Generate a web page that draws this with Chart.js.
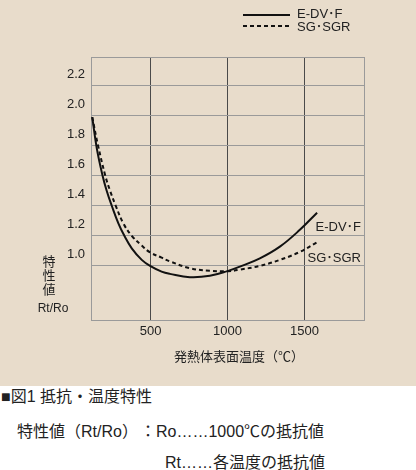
<!DOCTYPE html>
<html>
<head>
<meta charset="utf-8">
<script src="https://cdn.jsdelivr.net/npm/chart.js@4.4.0/dist/chart.umd.min.js"></script>
<style>
  html, body { margin: 0; padding: 0; background: #fff; }
  body { width: 416px; height: 470px; position: relative; overflow: hidden;
         font-family: "Liberation Sans", "Noto Sans CJK JP", sans-serif; color: #222; }
  #panel { position: absolute; left: 0; top: 0; width: 416px; height: 386px; background: #e8dccb; }
  .cap { position: absolute; font-size: 16px; line-height: 16px; white-space: nowrap; }
</style>
</head>
<body>
<div id="panel"><canvas id="myChart" width="416" height="386"></canvas></div>
<div class="cap" style="left:1px; top:389px;">■図1 抵抗・温度特性</div>
<div class="cap" style="left:17px; top:424px;">特性値（Rt/Ro）</div>
<div class="cap" style="left:140px; top:424px;">：Ro……1000℃の抵抗値</div>
<div class="cap" style="left:165px; top:455px;">Rt……各温度の抵抗値</div>
<script>
// temperatures (°C) and Rt/Ro values
const edvTemps = [120, 150, 185, 214, 247, 290, 329, 377, 442, 496, 571, 625, 755, 885, 1004, 1080, 1210, 1340, 1470, 1582];
const edvValues = [1.99, 1.78, 1.61, 1.50, 1.40, 1.283, 1.20, 1.117, 1.04, 1.0, 0.962, 0.947, 0.925, 0.934, 0.967, 0.995, 1.05, 1.128, 1.24, 1.354];

const sgTemps = [120, 158, 205, 236, 273, 322, 377, 442, 496, 571, 625, 755, 885, 1004, 1080, 1210, 1340, 1470, 1578];
const sgValues = [1.99, 1.80, 1.60, 1.50, 1.40, 1.283, 1.20, 1.135, 1.09, 1.055, 1.03, 0.985, 0.967, 0.965, 0.975, 1.0, 1.04, 1.093, 1.155];

const xTickValues = [500, 1000, 1500];
const yTickValues = [1.0, 1.2, 1.4, 1.6, 1.8, 2.0, 2.2];
const xMin = 112, xMax = 1887;
const yMin = 0.64, yMax = 2.39;

const FONT = '"Liberation Sans", "Noto Sans CJK JP", sans-serif';

const toPoints = (xs, ys) => xs.map((x, i) => ({ x: x, y: ys[i] }));

const textPlugin = {
  id: 'texts',
  afterDraw(chart) {
    const c = chart.ctx;
    const ys = chart.scales.y;
    c.save();
    c.fillStyle = '#222';
    c.textBaseline = 'middle';

    // legend at top
    c.strokeStyle = '#111';
    c.lineWidth = 2;
    c.beginPath(); c.moveTo(243, 15); c.lineTo(290, 15); c.stroke();
    c.setLineDash([4, 3]);
    c.beginPath(); c.moveTo(243, 26); c.lineTo(290, 26); c.stroke();
    c.setLineDash([]);
    c.font = '13px ' + FONT;
    c.textAlign = 'left';
    c.fillText('E-DV･F', 297, 14);
    c.fillText('SG･SGR', 297, 27);

    // labels next to the curves
    c.textAlign = 'right';
    c.fillText('E-DV･F', chart.chartArea.right - 3, ys.getPixelForValue(1.259));
    c.fillText('SG･SGR', chart.chartArea.right - 3, ys.getPixelForValue(1.053));

    // y axis title
    c.textAlign = 'center';
    c.font = '13px ' + FONT;
    c.fillText('特', 49, 262);
    c.fillText('性', 49, 276);
    c.fillText('値', 49, 290);
    c.font = '12px ' + FONT;
    c.fillText('Rt/Ro', 53, 309);

    // x axis title
    c.font = '13px ' + FONT;
    c.fillText('発熱体表面温度（℃）', 239, 357);
    c.restore();
  }
};

new Chart(document.getElementById('myChart'), {
  type: 'line',
  data: {
    datasets: [{
      label: 'E-DV･F',
      data: toPoints(edvTemps, edvValues),
      borderColor: '#111',
      borderWidth: 2,
      pointRadius: 0,
      tension: 0.4
    }, {
      label: 'SG･SGR',
      data: toPoints(sgTemps, sgValues),
      borderColor: '#111',
      borderWidth: 2,
      borderDash: [4, 3],
      pointRadius: 0,
      tension: 0.4
    }]
  },
  options: {
    responsive: false,
    animation: false,
    layout: { padding: { top: 57, right: 52, left: 0, bottom: 0 } },
    plugins: {
      legend: { display: false },
      tooltip: { enabled: false }
    },
    scales: {
      x: {
        type: 'linear',
        min: xMin,
        max: xMax,
        afterBuildTicks: (s) => { s.ticks = [xMin, ...xTickValues, xMax].map(v => ({ value: v })); },
        afterFit: (s) => { s.height = 66; },
        ticks: {
          padding: 4,
          color: '#222',
          font: { size: 13, family: FONT },
          maxRotation: 0,
          autoSkip: false,
          callback: (v) => xTickValues.includes(v) ? String(v) : ''
        },
        grid: {
          drawTicks: false,
          color: (ctx) => xTickValues.includes(ctx.tick.value) ? '#4a4a4a' : '#9a9a9a'
        },
        border: { color: '#9a9a9a' }
      },
      y: {
        min: yMin,
        max: yMax,
        afterBuildTicks: (s) => { s.ticks = [yMin, ...yTickValues, yMax].map(v => ({ value: v })); },
        afterFit: (s) => { s.width = 91; },
        ticks: {
          padding: 6,
          labelOffset: -11,
          color: '#222',
          font: { size: 13, family: FONT },
          autoSkip: false,
          callback: (v) => yTickValues.includes(v) ? v.toFixed(1) : ''
        },
        grid: {
          drawTicks: false,
          color: '#9a9a9a'
        },
        border: { color: '#9a9a9a' }
      }
    }
  },
  plugins: [textPlugin]
});
</script>
</body>
</html>
